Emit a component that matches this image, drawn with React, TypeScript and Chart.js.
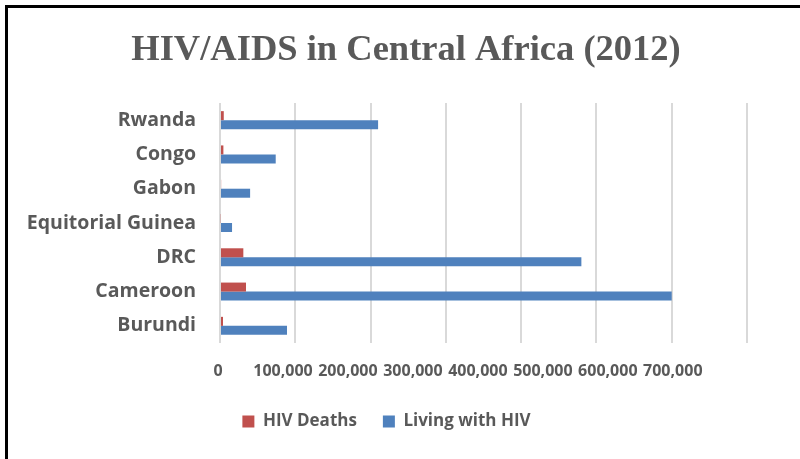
import React, { useEffect, useRef } from "react";
import { Chart, registerables } from "chart.js";

Chart.register(...registerables);

const title = "HIV/AIDS in Central Africa (2012)";
const categories = ["Rwanda", "Congo", "Gabon", "Equitorial Guinea", "DRC", "Cameroon", "Burundi"];
const hivDeaths = [5000, 4500, 1500, 1000, 31000, 34500, 4000];
const livingWithHiv = [210000, 74000, 40000, 16000, 480000, 600000, 89000];
const seriesNames = ["HIV Deaths", "Living with HIV"];
const xTickValues = [0, 100000, 200000, 300000, 400000, 500000, 600000, 700000];

const TEXT = "#595959";
const FONT = "'Open Sans', 'Noto Sans', sans-serif";

Chart.defaults.font.family = FONT;
Chart.defaults.font.weight = "bold";

const titlePlugin = {
  id: "customTitle",
  afterDraw(chart: any) {
    const ctx = chart.ctx;
    ctx.save();
    ctx.fillStyle = TEXT;
    ctx.font = "bold 36.5px 'Liberation Serif', serif";
    ctx.textAlign = "center";
    ctx.textBaseline = "middle";
    ctx.fillText(title, 406, 51);
    ctx.restore();
  },
};

const xLabelsPlugin = {
  id: "xLabels",
  afterDraw(chart: any) {
    const xs = chart.scales.x;
    const ctx = chart.ctx;
    const x0 = xs.getPixelForValue(0);
    ctx.save();
    ctx.fillStyle = TEXT;
    ctx.font = `bold 16px ${FONT}`;
    ctx.textAlign = "center";
    ctx.textBaseline = "middle";
    xTickValues.forEach((v) => {
      const px = x0 - 2 + (xs.getPixelForValue(v) - x0) * 0.863;
      ctx.fillText(v.toLocaleString("en-US"), px, 371);
    });
    ctx.restore();
  },
};

export default function App() {
  const ref = useRef<HTMLCanvasElement>(null);
  useEffect(() => {
    if (!ref.current) return;
    const chart = new Chart(ref.current, {
      type: "bar",
      data: {
        labels: categories,
        datasets: [
          {
            label: seriesNames[0],
            data: hivDeaths,
            backgroundColor: "#C0504D",
            categoryPercentage: 0.525,
            barPercentage: 1,
          },
          {
            label: seriesNames[1],
            data: livingWithHiv,
            backgroundColor: "#4F81BD",
            categoryPercentage: 0.525,
            barPercentage: 1,
          },
        ],
      },
      options: {
        indexAxis: "y",
        responsive: false,
        animation: false,
        layout: { padding: { left: 26, right: 53, top: 103, bottom: 19 } },
        plugins: {
          title: { display: false },
          tooltip: { enabled: false },
          legend: {
            position: "bottom",
            labels: {
              boxWidth: 12,
              boxHeight: 12,
              padding: 26,
              color: TEXT,
              font: { family: FONT, size: 17, weight: "bold" },
            },
          },
        },
        scales: {
          x: {
            min: 0,
            max: 700000,
            ticks: { display: false, stepSize: 100000 },
            grid: { color: "#d9d9d9", lineWidth: 2, drawTicks: false },
            border: { display: false },
            afterFit: (s: any) => {
              s.height = 44;
            },
          },
          y: {
            grid: { display: false, drawTicks: false },
            border: { display: false },
            ticks: {
              color: TEXT,
              padding: 24,
              font: { family: FONT, size: 19.5, weight: "bold" },
            },
            afterFit: (s: any) => {
              s.width = 194;
            },
          },
        },
      },
      plugins: [titlePlugin, xLabelsPlugin],
    });
    return () => chart.destroy();
  }, []);
  return (
    <div
      style={{
        position: "absolute",
        left: 0,
        top: 0,
        width: 800,
        height: 459,
        overflow: "hidden",
        background: "#fff",
      }}
    >
      <div
        style={{
          position: "absolute",
          left: 5,
          top: 5,
          width: 900,
          height: 600,
          border: "3px solid #000",
        }}
      />
      <canvas
        ref={ref}
        width={800}
        height={459}
        style={{ position: "absolute", left: 0, top: 0, width: 800, height: 459 }}
      />
    </div>
  );
}
